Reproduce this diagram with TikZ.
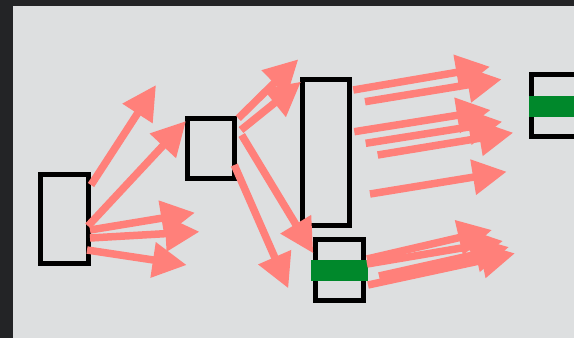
\documentclass[tikz,border=0pt]{standalone}
\usepackage{xcolor}
\usepackage{tikz}
\usetikzlibrary{arrows.meta}

\definecolor{flowred}{RGB}{255,128,122}
\definecolor{bargreen}{RGB}{0,136,43}
\definecolor{panelgray}{RGB}{221,223,224}
\definecolor{framedark}{RGB}{35,36,38}

\begin{document}
\begin{tikzpicture}[x=1pt, y=-1pt,
    layer/.style={rectangle, draw=black, line width=5pt, fill=panelgray, inner sep=0pt},
    bar/.style={rectangle, fill=bargreen, inner sep=0pt, minimum width=57pt, minimum height=21pt},
    flow/.style={draw=flowred, line width=7.5pt, -{Triangle[length=34pt, width=34pt]}}
]
    \useasboundingbox (0,0) rectangle (574,338);
    \fill [framedark] (0,0) rectangle (574,338);
    \fill [panelgray] (13,6) rectangle (574,338);

    \node [layer, minimum width=48pt, minimum height=89pt] (in) at (64.5, 219) {};
    \node [layer, minimum width=47pt, minimum height=60pt] (hidA) at (210.5, 148.3) {};
    \node [layer, minimum width=47pt, minimum height=146pt] (hidB) at (326.2, 152.8) {};
    \node [layer, minimum width=48pt, minimum height=61pt] (hidC) at (339.7, 269.7) {};
    \node [layer, minimum width=48pt, minimum height=62pt] (out) at (555, 105.8) {};
    \node [bar] (barC) at (339.5, 270.3) {};
    \node [bar] (barOut) at (557, 106.3) {};

    % ends of the arrows
    \coordinate (a1) at (91, 185);    \coordinate (a1t) at (156, 85);
    \coordinate (a2) at (88, 226);    \coordinate (a2t) at (186, 121);
    \coordinate (a3) at (90, 230);    \coordinate (a3t) at (195, 212.7);
    \coordinate (a4) at (90, 238);    \coordinate (a4t) at (199.5, 231.7);
    \coordinate (a5) at (87, 250);    \coordinate (a5t) at (186.7, 265);
    \coordinate (b1) at (238.3, 118.3); \coordinate (b1t) at (298.3, 59.3);
    \coordinate (b2) at (241, 130);   \coordinate (b2t) at (301, 81.7);
    \coordinate (b3) at (241.7, 135); \coordinate (b3t) at (313.3, 253.3);
    \coordinate (b4) at (234.3, 165); \coordinate (b4t) at (288.3, 288.3);
    \coordinate (c1) at (353.3, 90);  \coordinate (c1t) at (490, 66.7);
    \coordinate (c2) at (365, 101.7); \coordinate (c2t) at (501.7, 79.3);
    \coordinate (c3) at (354.3, 131.7); \coordinate (c3t) at (490.7, 110);
    \coordinate (c4) at (365.7, 143.3); \coordinate (c4t) at (502.3, 121.7);
    \coordinate (c5) at (377.7, 155); \coordinate (c5t) at (513.3, 132.7);
    \coordinate (c6) at (370, 194);   \coordinate (c6t) at (506.7, 171.7);
    \coordinate (d1) at (367, 259);   \coordinate (d1t) at (492, 230);
    \coordinate (d2) at (367, 264);   \coordinate (d2t) at (503, 241);
    \coordinate (d3) at (379, 276);   \coordinate (d3t) at (509, 247);
    \coordinate (d4) at (368, 285);   \coordinate (d4t) at (515, 253.3);

    \foreach \n in {a1, a2, a3, a4, a5, b1, b2, b3, b4, c1, c2, c3, c4, c5, c6, d1, d2, d3, d4}
        \draw [flow] (\n) -- (\n t);
\end{tikzpicture}
\end{document}
